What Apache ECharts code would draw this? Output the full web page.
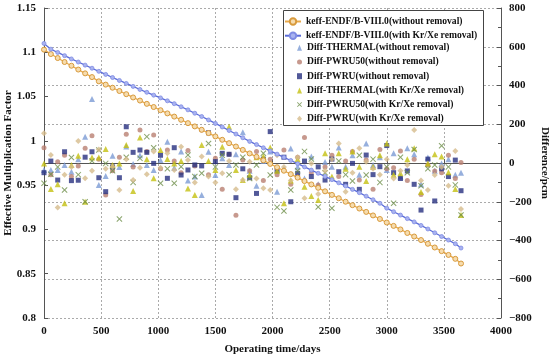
<!DOCTYPE html>
<html><head><meta charset="utf-8">
<script src="https://cdn.jsdelivr.net/npm/echarts@6/dist/echarts.min.js"></script>
<style>html,body{margin:0;padding:0;background:#fff}#c{width:550px;height:358px}</style>
</head><body><div id="c"></div>
<script>
const days = [0,60,120,180,240,300,360,420,480,540,600,660,720,780,840,900,960,1020,1080,1140,1200,1260,1320,1380,1440,1500,1560,1620,1680,1740,1800,1860,1920,1980,2040,2100,2160,2220,2280,2340,2400,2460,2520,2580,2640,2700,2760,2820,2880,2940,3000,3060,3120,3180,3240,3300,3360,3420,3480,3540,3600,3650];

const keffWithout = [1.1030,1.0980,1.0935,1.0890,1.0848,1.0805,1.0762,1.0720,1.0672,1.0635,1.0600,1.0563,1.0527,1.0490,1.0455,1.0418,1.0382,1.0346,1.0310,1.0274,1.0238,1.0200,1.0163,1.0125,1.0088,1.0050,1.0012,0.9974,0.9936,0.9898,0.9858,0.9820,0.9780,0.9740,0.9702,0.9663,0.9624,0.9585,0.9546,0.9508,0.9470,0.9430,0.9390,0.9352,0.9313,0.9274,0.9236,0.9198,0.9158,0.9118,0.9078,0.9040,0.9000,0.8960,0.8920,0.8880,0.8838,0.8796,0.8755,0.8712,0.8668,0.8615];

const keffWith = [1.1100,1.1035,1.0998,1.0962,1.0925,1.0890,1.0855,1.0820,1.0785,1.0750,1.0715,1.0682,1.0648,1.0615,1.0580,1.0548,1.0516,1.0485,1.0452,1.0420,1.0385,1.0350,1.0312,1.0275,1.0236,1.0197,1.0157,1.0117,1.0077,1.0035,0.9994,0.9958,0.9922,0.9886,0.9850,0.9814,0.9778,0.9742,0.9706,0.9670,0.9634,0.9598,0.9562,0.9526,0.9490,0.9452,0.9415,0.9375,0.9335,0.9295,0.9240,0.9200,0.9162,0.9122,0.9085,0.9045,0.9005,0.8962,0.8920,0.8880,0.8838,0.8790];

const thermalWithout = [-36,-36,-36,-10,-45,20,136,330,-113,-67,38,-20,85,-5,40,-10,-36,15,110,-25,60,-90,-70,-165,58,-62,24,-10,45,159,-40,-117,10,60,-148,-30,75,-19,-80,33,-110,5,-19,80,-19,40,-60,101,-10,30,-36,50,-70,76,45,-110,29,-40,-2,20,-60,-50];
const pwru50Without = [79,-60,7,40,-70,-15,76,141,20,-165,-40,30,148,-20,170,60,144,-30,67,10,-50,65,-15,170,-60,25,-136,45,-270,15,-40,60,-90,20,-60,67,-110,30,131,-50,-113,-20,40,-70,10,60,-88,15,-136,70,-30,-24,62,-90,20,-162,-10,-41,-50,40,-80,2];
const pwruWithout = [-50,10,-88,58,-91,-89,30,58,-76,-148,-20,-76,187,55,67,55,-2,40,-79,79,-62,-36,-10,-15,156,7,50,45,-179,-30,-76,-157,20,162,-40,30,-200,-53,10,-70,-20,-88,20,-45,-110,-2,-136,41,-60,-19,90,-50,-80,-41,-110,-243,20,-196,-30,-70,15,-143];
const thermalWith = [-2,-134,-110,-208,-10,38,-200,28,28,72,-10,-2,93,-145,131,20,-79,67,21,-2,10,-131,-165,93,10,-36,84,187,-36,-88,-60,30,33,80,-40,-208,-90,20,-122,-170,-191,50,-70,50,-30,60,-19,-93,-19,40,101,-60,-53,20,76,-150,-2,45,33,-48,-134,-268];
const pwru50With = [-105,-58,-20,-139,28,-60,-200,10,67,-2,-40,-289,30,-100,24,136,79,-105,-30,-105,-19,41,-70,-53,101,-20,40,-60,-10,30,-80,-10,50,-62,-229,-248,-139,-40,60,21,-227,-50,-234,10,-60,-93,40,-62,20,-100,-20,-208,30,-50,70,-117,-30,-10,89,-20,-113,-268];
const pwruWith = [153,41,-230,-60,-20,113,-79,-40,70,-30,-19,-139,20,-88,-24,-58,60,-24,50,-36,84,15,-100,33,-70,-100,-53,10,-136,-88,7,-80,-130,-139,40,-20,-90,30,-182,-2,-160,-40,20,101,-148,-50,76,7,-30,-60,20,-80,-40,-10,170,-90,-139,-62,-20,-117,62,-237];

const xTicks = [0, 4000, 500];
const yLeftTicks = [0.8, 1.15, 0.05];
const yRightTicks = [-800, 800, 200];

const lineNames = ['keff-ENDF/B-VIII.0(without removal)','keff-ENDF/B-VIII.0(with Kr/Xe removal)'];
const scatterNames = ['Diff-THERMAL(without removal)','Diff-PWRU50(without removal)','Diff-PWRU(without removal)','Diff-THERMAL(with Kr/Xe removal)','Diff-PWRU50(with Kr/Xe removal)','Diff-PWRU(with Kr/Xe removal)'];

const pair = arr => days.map((d, i) => [d, arr[i]]);
const FONT = "'Liberation Serif','DejaVu Serif',serif";
const lbl = {fontFamily: FONT, fontWeight: 'bold', fontSize: 11, color: '#111'};
const axisLine = {show: true, lineStyle: {color: '#555', width: 1}};
const X_PATH = 'path://M0,1.2L1.2,0L5,3.8L8.8,0L10,1.2L6.2,5L10,8.8L8.8,10L5,6.2L1.2,10L0,8.8L3.8,5Z';
const legText = {fontFamily: FONT, fontWeight: 'bold', fontSize: 9.6, color: '#111', lineHeight: 9};

const chart = echarts.init(document.getElementById('c'), null, {renderer: 'canvas'});
chart.setOption({
  animation: false,
  backgroundColor: '#fff',
  grid: {left: 44, right: 49, top: 8, bottom: 40, outerBoundsMode: 'none', containLabel: false},
  graphic: [{
    type: 'rect', z: 50, silent: true,
    shape: {x: 283.5, y: 10.5, width: 200, height: 115},
    style: {fill: '#fff', stroke: '#444', lineWidth: 1}
  }],
  legend: [{
    orient: 'vertical', left: 284, top: 16.5, padding: 0, z: 60,
    itemWidth: 16, itemHeight: 8, itemGap: 4.2,
    textStyle: legText, data: lineNames
  }, {
    orient: 'vertical', left: 297, top: 42.8, padding: 0, z: 60,
    itemWidth: 5, itemHeight: 6, itemGap: 4.2,
    textStyle: legText, data: scatterNames
  }],
  xAxis: {
    type: 'value', min: xTicks[0], max: xTicks[1], interval: xTicks[2],
    axisLine, axisTick: {inside: true, length: 4, lineStyle: {color: '#555'}},
    axisLabel: Object.assign({margin: 8, formatter: v => String(v)}, lbl),
    splitLine: {show: true, lineStyle: {color: '#aaa', type: [2, 2], width: 1}},
    name: 'Operating time/days', nameLocation: 'middle', nameGap: 26, nameMoveOverlap: false,
    nameTextStyle: {fontFamily: FONT, fontWeight: 'bold', fontSize: 11, color: '#111'}
  },
  yAxis: [{
    type: 'value', position: 'left', min: yLeftTicks[0], max: yLeftTicks[1], interval: yLeftTicks[2],
    axisLine, axisTick: {inside: true, length: 4, lineStyle: {color: '#555'}},
    axisLabel: Object.assign({margin: 8, formatter: v => String(+v.toFixed(2))}, lbl),
    splitLine: {show: false},
    name: 'Effective Multiplication Factor', nameLocation: 'middle', nameGap: 30, nameRotate: 90, nameMoveOverlap: false,
    nameTextStyle: {fontFamily: FONT, fontWeight: 'bold', fontSize: 11, color: '#111'}
  }, {
    type: 'value', position: 'right', min: yRightTicks[0], max: yRightTicks[1], interval: yRightTicks[2],
    axisLine, axisTick: {inside: true, length: 4, lineStyle: {color: '#555'}},
    minorTick: {show: true, splitNumber: 2, length: 3, lineStyle: {color: '#555'}},
    axisLabel: Object.assign({margin: 8, formatter: v => v < 0 ? '\u2212' + (-v) : String(v)}, lbl),
    splitLine: {show: true, lineStyle: {color: '#aaa', type: [2, 2], width: 1}},
    name: 'Difference/pcm', nameLocation: 'middle', nameGap: 38, nameRotate: -90, nameMoveOverlap: false,
    nameTextStyle: {fontFamily: FONT, fontWeight: 'bold', fontSize: 11, color: '#111'}
  }],
  series: [
    {name: lineNames[0], type: 'line', yAxisIndex: 0, z: 5, data: pair(keffWithout),
     symbol: 'circle', symbolSize: 5, showAllSymbol: true,
     lineStyle: {color: '#e8a94a', width: 1.3}, itemStyle: {color: '#f6dcae', borderColor: '#d89a3c', borderWidth: 1}},
    {name: lineNames[1], type: 'line', yAxisIndex: 0, z: 5, data: pair(keffWith),
     symbol: 'circle', symbolSize: 4, showAllSymbol: true,
     lineStyle: {color: '#5a6bd8', width: 1.3}, itemStyle: {color: '#a9b3f0', borderColor: '#7f8ce3', borderWidth: 0.8}},
    {name: scatterNames[0], type: 'scatter', yAxisIndex: 1, data: pair(thermalWithout),
     symbol: 'triangle', symbolSize: 6, itemStyle: {color: '#7c9bd4'}},
    {name: scatterNames[1], type: 'scatter', yAxisIndex: 1, data: pair(pwru50Without),
     symbol: 'circle', symbolSize: 5, itemStyle: {color: '#b97f72'}},
    {name: scatterNames[2], type: 'scatter', yAxisIndex: 1, data: pair(pwruWithout),
     symbol: 'rect', symbolSize: 5, itemStyle: {color: '#27307f'}},
    {name: scatterNames[3], type: 'scatter', yAxisIndex: 1, data: pair(thermalWith),
     symbol: 'triangle', symbolSize: 6, itemStyle: {color: '#c4c012'}},
    {name: scatterNames[4], type: 'scatter', yAxisIndex: 1, data: pair(pwru50With),
     symbol: X_PATH, symbolSize: 6, itemStyle: {color: '#6e8f4a'}},
    {name: scatterNames[5], type: 'scatter', yAxisIndex: 1, data: pair(pwruWith),
     symbol: 'diamond', symbolSize: 6, itemStyle: {color: '#d6bb8c'}}
  ]
});
</script></body></html>
